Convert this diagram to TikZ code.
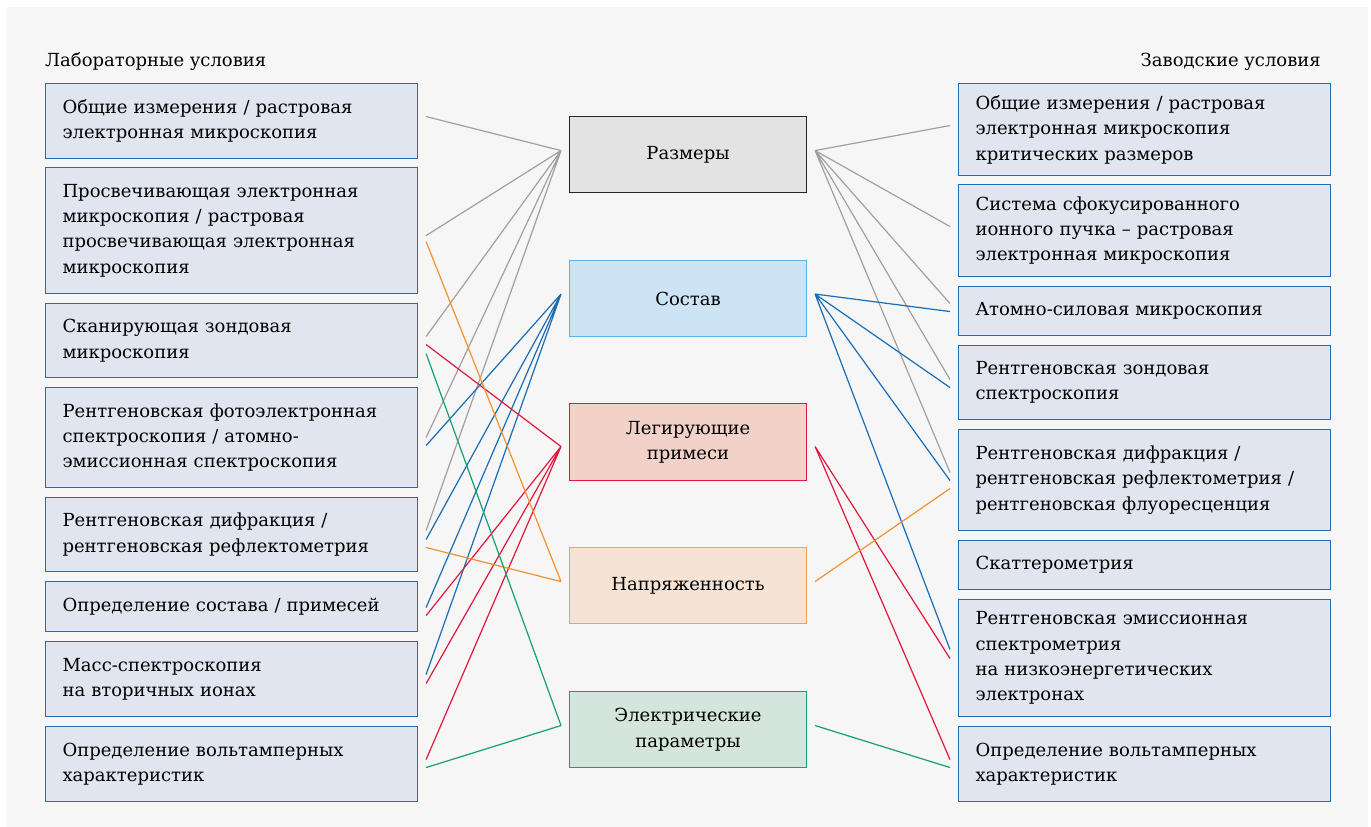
\documentclass[tikz,border=0pt]{standalone}
\usepackage{fontspec}
\setmainfont{DejaVu Serif}
\definecolor{bgcol}{HTML}{F6F6F6}
\definecolor{boxfill}{HTML}{E0E5F0}
\definecolor{boxline}{HTML}{1F6FB8}
\definecolor{grayline}{HTML}{A0A0A0}
\definecolor{blueline}{HTML}{1A6DB5}
\definecolor{redline}{HTML}{E3173C}
\definecolor{orangeline}{HTML}{F39130}
\definecolor{greenline}{HTML}{14A073}
\definecolor{sostdraw}{HTML}{5AB4E5}
\definecolor{sostfill}{HTML}{CDE4F4}
\definecolor{legfill}{HTML}{F2D2C8}
\definecolor{naprfill}{HTML}{F5E3D5}
\definecolor{elekfill}{HTML}{D3E5DC}
\tikzset{
  txt/.style={font=\fontsize{18}{25.4}\selectfont, text=black},
  meth/.style={txt, draw=boxline, fill=boxfill, line width=1.1pt, anchor=north west,
    minimum width=372pt, text width=338pt, inner xsep=17pt, align=left},
  param/.style={txt, line width=1.1pt, anchor=north west, minimum width=237pt,
    minimum height=76pt, align=center},
  link/.style={line width=1.2pt}
}
\begin{document}
\begin{tikzpicture}[x=1pt, y=-1pt]
  \useasboundingbox (0,0) rectangle (1371,827);
  \fill[bgcol] (7,7) rectangle (1368,827);
  \node[txt, anchor=base west, inner sep=0pt] (labhead) at (45,66) {Лабораторные условия};
  \node[txt, anchor=base east, inner sep=0pt] (fabhead) at (1321,66) {Заводские условия};
  % laboratory
  \node[meth, minimum height=75pt] (L1) at (45,83) {Общие измерения / растровая\\электронная микроскопия};
  \node[meth, minimum height=126pt] (L2) at (45,167) {Просвечивающая электронная\\микроскопия / растровая\\просвечивающая электронная\\микроскопия};
  \node[meth, minimum height=74pt] (L3) at (45,303) {Сканирующая зондовая\\микроскопия};
  \node[meth, minimum height=100pt] (L4) at (45,387) {Рентгеновская фотоэлектронная\\спектроскопия / атомно-\\эмиссионная спектроскопия};
  \node[meth, minimum height=74pt] (L5) at (45,497) {Рентгеновская дифракция /\\рентгеновская рефлектометрия};
  \node[meth, minimum height=50pt] (L6) at (45,581) {Определение состава / примесей};
  \node[meth, minimum height=75pt] (L7) at (45,641) {Масс-спектроскопия\\на вторичных ионах};
  \node[meth, minimum height=75pt] (L8) at (45,726) {Определение вольтамперных\\характеристик};
  % parameters
  \node[param, draw=black!85, fill=black!11] (razm) at (569,116) {Размеры};
  \node[param, draw=sostdraw, fill=sostfill] (sost) at (569,260) {Состав};
  \node[param, draw=redline, fill=legfill, minimum height=77pt] (leg) at (569,403) {Легирующие\\примеси};
  \node[param, draw=orangeline!85, fill=naprfill] (napr) at (569,547) {Напряженность};
  \node[param, draw=greenline, fill=elekfill] (elek) at (569,691) {Электрические\\параметры};
  % factory
  \node[meth, minimum height=92pt] (R1) at (958,83) {Общие измерения / растровая\\электронная микроскопия\\критических размеров};
  \node[meth, minimum height=92pt] (R2) at (958,184) {Система сфокусированного\\ионного пучка – растровая\\электронная микроскопия};
  \node[meth, minimum height=49pt] (R3) at (958,286) {Атомно-силовая микроскопия};
  \node[meth, minimum height=74pt] (R4) at (958,345) {Рентгеновская зондовая\\спектроскопия};
  \node[meth, minimum height=101pt] (R5) at (958,429) {Рентгеновская дифракция /\\рентгеновская рефлектометрия /\\рентгеновская флуоресценция};
  \node[meth, minimum height=49pt] (R6) at (958,540) {Скаттерометрия};
  \node[meth, minimum height=117pt] (R7) at (958,599) {Рентгеновская эмиссионная\\спектрометрия\\на низкоэнергетических\\электронах};
  \node[meth, minimum height=75pt] (R8) at (958,726) {Определение вольтамперных\\характеристик};
  % meeting points next to the parameters
  \coordinate (razmL) at ([xshift=-8pt,yshift=4pt]razm.west);
  \coordinate (razmR) at ([xshift=8pt,yshift=4pt]razm.east);
  \coordinate (sostL) at ([xshift=-8pt,yshift=4.5pt]sost.west);
  \coordinate (sostR) at ([xshift=8pt,yshift=4.5pt]sost.east);
  \coordinate (legL) at ([xshift=-8pt,yshift=-4.5pt]leg.west);
  \coordinate (legR) at ([xshift=8pt,yshift=-4.5pt]leg.east);
  \coordinate (naprL) at ([xshift=-8pt,yshift=4pt]napr.west);
  \coordinate (naprR) at ([xshift=8pt,yshift=4pt]napr.east);
  \coordinate (elekL) at ([xshift=-8pt,yshift=4pt]elek.west);
  \coordinate (elekR) at ([xshift=8pt,yshift=4pt]elek.east);
  % size
  \draw[link, grayline] ([xshift=8pt,yshift=4.5pt]L1.east) -- (razmL) ([xshift=8pt,yshift=-5pt]L2.east) -- (razmL)
    ([xshift=8pt,yshift=4pt]L3.east) -- (razmL) ([xshift=8pt]L4.east) -- (razmL) ([xshift=8pt,yshift=4pt]L5.east) -- (razmL);
  \draw[link, grayline] (razmR) -- ([xshift=-8pt,yshift=4pt]R1.west) (razmR) -- ([xshift=-8pt,yshift=4pt]R2.west)
    (razmR) -- ([xshift=-8pt,yshift=7.5pt]R3.west) (razmR) -- ([xshift=-8pt,yshift=3pt]R4.west) (razmR) -- ([xshift=-8pt,yshift=7.5pt]R5.west);
  % composition
  \draw[link, blueline] ([xshift=8pt,yshift=-8pt]L4.east) -- (sostL) ([xshift=8pt,yshift=-5pt]L5.east) -- (sostL)
    ([xshift=8pt,yshift=-1pt]L6.east) -- (sostL) ([xshift=8pt,yshift=4.5pt]L7.east) -- (sostL);
  \draw[link, blueline] (sostR) -- ([xshift=-8pt,yshift=-0.5pt]R3.west) (sostR) -- ([xshift=-8pt,yshift=-5pt]R4.west)
    (sostR) -- ([xshift=-8pt,yshift=-0.5pt]R5.west) (sostR) -- ([xshift=-8pt,yshift=8.5pt]R7.west);
  % dopants
  \draw[link, redline] ([xshift=8pt,yshift=-4pt]L3.east) -- (legL) ([xshift=8pt,yshift=-9pt]L6.east) -- (legL)
    ([xshift=8pt,yshift=-4.5pt]L7.east) -- (legL) ([xshift=8pt,yshift=4.5pt]L8.east) -- (legL);
  \draw[link, redline] (legR) -- ([xshift=-8pt,yshift=-0.5pt]R7.west) (legR) -- ([xshift=-8pt,yshift=4.5pt]R8.west);
  % strain
  \draw[link, orangeline] ([xshift=8pt,yshift=-11pt]L2.east) -- (naprL) ([xshift=8pt,yshift=-13pt]L5.east) -- (naprL);
  \draw[link, orangeline] (naprR) -- ([xshift=-8pt,yshift=-8.5pt]R5.west);
  % electrical
  \draw[link, greenline] ([xshift=8pt,yshift=-13pt]L3.east) -- (elekL) ([xshift=8pt,yshift=-3.5pt]L8.east) -- (elekL);
  \draw[link, greenline] (elekR) -- ([xshift=-8pt,yshift=-3.5pt]R8.west);
\end{tikzpicture}
\end{document}
